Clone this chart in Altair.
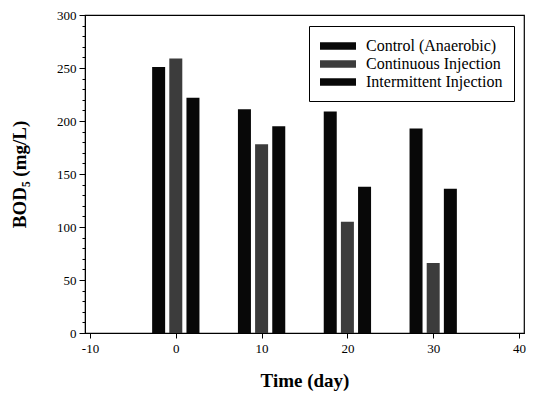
import altair as alt
import pandas as pd

days = [0, 10, 20, 30]
series = ["Control (Anaerobic)", "Continuous Injection", "Intermittent Injection"]
offsets = [-2, 0, 2]
control = [251, 211, 209, 193]
continuous = [259, 178, 105, 66]
intermittent = [222, 195, 138, 136]
colors = ["#080808", "#3c3c3c", "#080808"]

rows = []
for s, off, vals in zip(series, offsets, [control, continuous, intermittent]):
    for d, v in zip(days, vals):
        rows.append({"series": s, "x": d + off, "bod": v})
df = pd.DataFrame(rows)

serif = "Liberation Serif"

bars = alt.Chart(df).mark_bar(size=13).encode(
    x=alt.X("x:Q", scale=alt.Scale(domain=[-10, 40], nice=False),
            axis=alt.Axis(values=[-10, 0, 10, 20, 30, 40], title="Time (day)",
                          labelExpr="replace(datum.label, '−', '-')",
                          grid=False, tickSize=5, labelPadding=4, titlePadding=16)),
    y=alt.Y("bod:Q", scale=alt.Scale(domain=[0, 300], nice=False),
            axis=alt.Axis(values=list(range(0, 301, 10)), title="BOD₅ (mg/L)",
                          labelExpr="datum.value % 50 === 0 ? datum.label : ''",
                          tickSize={"condition": {"test": "datum.value % 50 === 0", "value": 6}, "value": 3},
                          grid=False, labelPadding=3, titlePadding=27)),
    color=alt.Color("series:N", sort=series,
                    scale=alt.Scale(domain=series, range=colors),
                    legend=alt.Legend(title=None, orient="none", legendX=224, legendY=11,
                                      symbolType="M-2,-0.42H2V0.42H-2Z", symbolSize=324,
                                      symbolOffset=9,
                                      symbolStrokeWidth=0, rowPadding=1, padding=11,
                                      strokeColor="black", fillColor="white", labelOffset=19)),
)

chart = bars.properties(
    width=439, height=318,
    autosize=alt.AutoSizeParams(type="none"),
    padding={"left": 77, "top": 7, "right": 10, "bottom": 63},
).configure_view(
    stroke="black", strokeWidth=1.2
).configure_axis(
    labelFont=serif, labelFontSize=13, labelColor="black",
    titleFont=serif, titleFontSize=19, titleFontWeight="bold", titleColor="black",
    domainColor="black", tickColor="black"
).configure_legend(
    labelFont=serif, labelFontSize=16, labelColor="black"
)

chart.save("out.html", embed_options={"renderer": "svg", "actions": False})
